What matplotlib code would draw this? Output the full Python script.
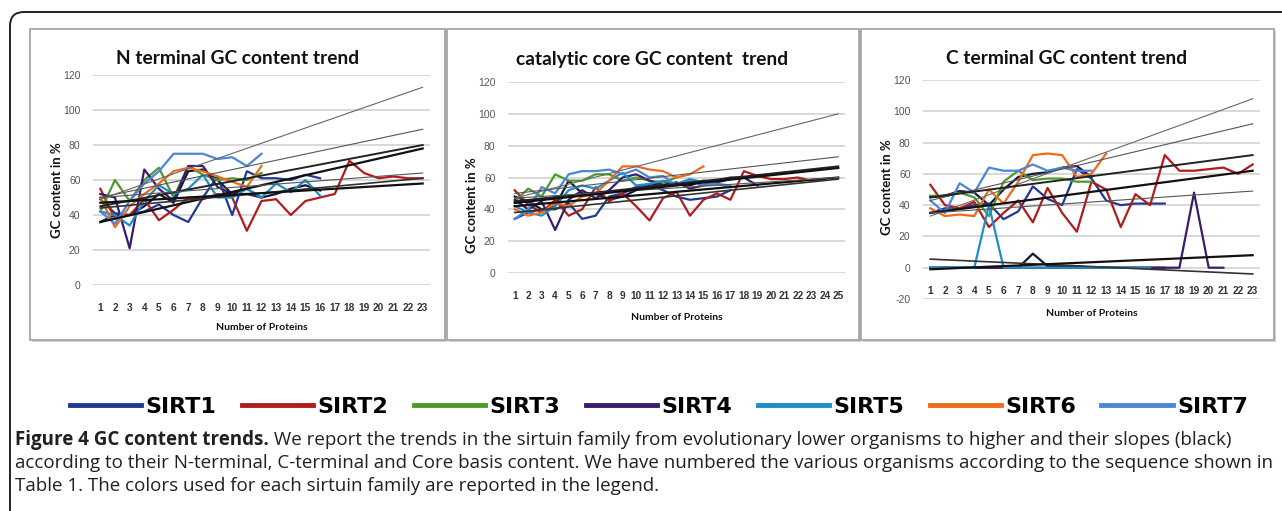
import matplotlib
matplotlib.use("Agg")
import matplotlib.pyplot as plt
from matplotlib.lines import Line2D
from matplotlib.patches import Rectangle, FancyBboxPatch
from matplotlib.transforms import IdentityTransform

W, H = 1282, 511

# ---- data ----
series_names = ["SIRT1", "SIRT2", "SIRT3", "SIRT4", "SIRT5", "SIRT6", "SIRT7"]
series_colors = ["#1f3a93", "#b01c1c", "#4c9a2a", "#3b1c6b", "#1e8fc6", "#f06a1d", "#4a86d9"]
extra_color = "#15153a"

# N terminal (23 organisms)
n_sirt1 = [49, 41, 40, 42, 46, 40, 36, 50, 62, 40, 65, 61, 61, 60, 63, 61]
n_sirt2 = [55, 38, 40, 49, 37, 43, 50, 49, 52, 50, 31, 48, 49, 40, 48, 50, 52, 71, 64, 61, 62, 61, 61]
n_sirt3 = [42, 60, 48, 60, 67, 50, 68, 63, 60, 61, 60, 64]
n_sirt4 = [52, 50, 21, 66, 55, 48, 68, 68, 56, 52, 52, 50]
n_sirt5 = [42, 40, 34, 48, 57, 52, 55, 63, 50, 50, 55, 50, 58, 53, 60, 51]
n_sirt6 = [50, 33, 45, 52, 58, 65, 67, 65, 62, 59, 56, 68]
n_sirt7 = [42, 35, 48, 58, 65, 75, 75, 75, 72, 73, 68, 75]
n_extra = [36, 40, 40, 45, 52, 47, 65, 66, 60, 52, 55, 50, 52, 55, 57, 54]
n_trend_start = [49, 50, 45, 36, 50, 44, 47]
n_trend_end = [113, 89, 80, 78, 64, 61, 58]

# catalytic core (25 organisms)
core_sirt1 = [34, 38, 40, 40, 44, 34, 36, 48, 50, 54, 56, 52, 48, 46, 47, 48, 52]
core_sirt2 = [52, 43, 38, 46, 36, 40, 54, 45, 50, 42, 33, 47, 51, 36, 46, 50, 46, 64, 61, 59, 59, 60, 58, 59]
core_sirt3 = [45, 53, 48, 62, 58, 58, 62, 62, 58, 60, 58, 57, 60]
core_sirt4 = [46, 40, 45, 27, 46, 52, 47, 52, 60, 62, 58, 55, 57, 53, 55, 58, 60, 60, 55]
core_sirt5 = [42, 38, 36, 42, 52, 55, 53, 58, 63, 55, 56, 58, 56, 59, 57, 56, 54]
core_sirt6 = [40, 36, 38, 44, 42, 48, 50, 58, 67, 67, 65, 64, 60, 62, 67]
core_sirt7 = [34, 40, 54, 50, 62, 64, 64, 65, 62, 65, 60, 61, 55, 58, 55, 56, 55]
core_extra = [48, 45, 40, 42, 58, 50, 50, 46, 48, 52, 55, 57, 56, 55, 58, 57, 59, 60]
core_trend_start = [47, 50, 45, 42, 47, 38, 44]
core_trend_end = [100, 73, 67, 60, 60, 59, 66]

# C terminal (23 organisms)
ct_sirt1 = [35, 38, 38, 40, 41, 31, 36, 52, 44, 40, 63, 57, 43, 40, 41, 41, 41]
ct_sirt2 = [53, 40, 38, 42, 26, 35, 43, 29, 51, 35, 23, 55, 50, 26, 47, 40, 72, 62, 62, 63, 64, 60, 66]
ct_sirt3 = [46, 46, 48, 45, 33, 55, 62, 56, 57, 57, 55, 55]
ct_sirt4 = [0, 0, 0, 0, 0, 0, 0, 0, 0, 0, 0, 0, 0, 0, 0, 0, 0, 0, 48, 0, 0]
ct_sirt5 = [0, 0, 0, 0, 40, 0, 0, 0, 0, 0, 0, 0, 0, 0, 0, 0]
ct_sirt6 = [38, 33, 34, 33, 50, 41, 55, 72, 73, 72, 58, 60, 73]
ct_sirt7 = [43, 35, 54, 48, 64, 62, 62, 66, 62, 64, 62, 62]
ct_extra1 = [45, 46, 49, 48, 40, 50, 58, 60, 61, 64, 65, 58]
ct_extra2 = [0, 0, 0, 0, 0, 0, 0, 9, 1, 1, 1, 0, 0, 0, 0, 0, 0]
ct_trend_start = [33, 43, 45, 35, 35, 5.5, -1]
ct_trend_end = [108, 92, 72, 62, 49, -4, 8]

trend_widths = [0.8, 0.8, 1.4, 1.6, 0.8, 1.2, 1.6]
trend_colors = ["#666666", "#555555", "#222222", "#111111", "#555555", "#333333", "#111111"]

panels = [
    dict(title="N terminal GC content trend", n=23, ylim=(0, 120),
         series=[n_sirt1, n_sirt2, n_sirt3, n_sirt4, n_sirt5, n_sirt6, n_sirt7], extra=[n_extra],
         t0=n_trend_start, t1=n_trend_end,
         area=(93, 75, 430, 285), box=(30, 29, 445, 340),
         title_xy=(238, 58), ylab_xy=(57, 190), xlab_xy=(262, 328)),
    dict(title="catalytic core GC content  trend", n=25, ylim=(0, 120),
         series=[core_sirt1, core_sirt2, core_sirt3, core_sirt4, core_sirt5, core_sirt6, core_sirt7], extra=[core_extra],
         t0=core_trend_start, t1=core_trend_end,
         area=(508, 82, 845, 273), box=(447, 29, 859, 340),
         title_xy=(652, 59), ylab_xy=(472, 205), xlab_xy=(677, 317)),
    dict(title="C terminal GC content trend", n=23, ylim=(-20, 120),
         series=[ct_sirt1, ct_sirt2, ct_sirt3, ct_sirt4, ct_sirt5, ct_sirt6, ct_sirt7], extra=[ct_extra1, ct_extra2],
         t0=ct_trend_start, t1=ct_trend_end,
         area=(923, 80, 1260, 299), box=(861, 29, 1274, 340),
         title_xy=(1067, 58), ylab_xy=(887, 187), xlab_xy=(1092, 313)),
]

fig = plt.figure(figsize=(W / 100, H / 100), dpi=100)
fig.patch.set_facecolor("white")


def fx(x):
    return x / W


def fy(y):
    return 1 - y / H


# outer rounded frame
frame = FancyBboxPatch((10, -40), 1320, 539, boxstyle="round,pad=0,rounding_size=14",
                       transform=IdentityTransform(), fill=False, edgecolor="#222222",
                       linewidth=1.4, zorder=-3)
fig.add_artist(frame)

for p in panels:
    x0, y0, x1, y1 = p["box"]
    shadow = Rectangle((fx(x0) + 2 / W, fy(y1) - 2 / H), (x1 - x0) / W, (y1 - y0) / H,
                       transform=fig.transFigure, facecolor="#d0d0d0", edgecolor="none", zorder=-2)
    fig.add_artist(shadow)
    box = Rectangle((fx(x0), fy(y1)), (x1 - x0) / W, (y1 - y0) / H, transform=fig.transFigure,
                    facecolor="white", edgecolor="#a0a0a0", linewidth=1.2, zorder=-1)
    fig.add_artist(box)

    ax0, ay0, ax1, ay1 = p["area"]
    ax = fig.add_axes([fx(ax0), fy(ay1), (ax1 - ax0) / W, (ay1 - ay0) / H])
    ax.set_facecolor("none")
    n = p["n"]
    cats = list(range(1, n + 1))

    for yv in range(p["ylim"][0], p["ylim"][1] + 1, 20):
        ax.axhline(yv, color="#d6d6d6", lw=1.3, zorder=0)

    for vals in p["extra"]:
        ax.plot(cats[:len(vals)], vals, color=extra_color, lw=1.6, zorder=2)
    for vals, col in zip(p["series"], series_colors):
        ax.plot(cats[:len(vals)], vals, color=col, lw=1.6, zorder=2)
    for s, e, lw, col in zip(p["t0"], p["t1"], trend_widths, trend_colors):
        ax.plot([1, n], [s, e], color=col, lw=lw, zorder=3)

    ax.set_xlim(0.5, n + 0.5)
    ax.set_ylim(*p["ylim"])
    for sp in ax.spines.values():
        sp.set_visible(False)
    ax.spines["bottom"].set_position(("data", 0))
    ax.set_xticks(cats)
    ax.set_xticklabels([str(c) for c in cats], fontsize=7.3, color="#333333",
                       family="Liberation Sans", fontweight="bold")
    ax.set_yticks(list(range(p["ylim"][0], p["ylim"][1] + 1, 20)))
    ax.set_yticklabels([str(v) for v in range(p["ylim"][0], p["ylim"][1] + 1, 20)],
                       fontsize=7.5, color="#555555", family="Liberation Sans")
    ax.tick_params(axis="both", length=0)
    ax.tick_params(axis="x", pad=13)
    ax.tick_params(axis="y", pad=9)

    fig.text(fx(p["title_xy"][0]), fy(p["title_xy"][1]), p["title"], ha="center", va="center",
             fontsize=13.8, fontweight="bold", family="Lato", color="#111111")
    fig.text(fx(p["ylab_xy"][0]), fy(p["ylab_xy"][1]), "GC content in %", ha="center", va="center",
             rotation=90, fontsize=9.5, fontweight="bold", family="Lato", color="#111111")
    fig.text(fx(p["xlab_xy"][0]), fy(p["xlab_xy"][1]), "Number of Proteins", ha="center", va="center",
             fontsize=7.5, fontweight="bold", family="Lato", color="#111111")

# legend row
handles = [Line2D([0], [0], color=c, lw=3.5) for c in series_colors]
fig.legend(handles, series_names, loc="center", bbox_to_anchor=(fx(659), fy(407)), ncol=7,
           frameon=False, prop=dict(family="DejaVu Sans", weight="bold", size=16),
           handlelength=3.2, handletextpad=0.2, columnspacing=1.15, borderaxespad=0)

# caption
cap_col = "#231f20"
cap_size = 13.5
renderer = fig.canvas.get_renderer()
t_bold = fig.text(fx(15), fy(440), "Figure 4 GC content trends.", ha="left", va="center",
                  fontsize=cap_size, fontweight="bold", family="Open Sans", color=cap_col)
bb = t_bold.get_window_extent(renderer=renderer)
fig.text(bb.x1 / W, fy(440),
         " We report the trends in the sirtuin family from evolutionary lower organisms to higher and their slopes (black)",
         ha="left", va="center", fontsize=cap_size, family="Open Sans", color=cap_col)
fig.text(fx(15), fy(463),
         "according to their N-terminal, C-terminal and Core basis content. We have numbered the various organisms according to the sequence shown in",
         ha="left", va="center", fontsize=cap_size, family="Open Sans", color=cap_col)
fig.text(fx(15), fy(486), "Table 1. The colors used for each sirtuin family are reported in the legend.",
         ha="left", va="center", fontsize=cap_size, family="Open Sans", color=cap_col)

fig.savefig("out.png", dpi=100)
